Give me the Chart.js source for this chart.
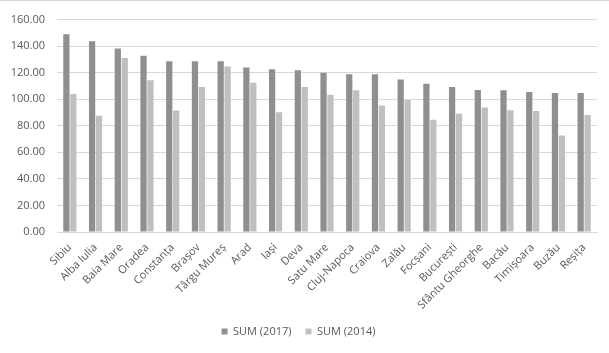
<!DOCTYPE html>
<html>
<head>
<meta charset="utf-8">
<script src="https://cdn.jsdelivr.net/npm/chart.js@4"></script>
<style>
  html, body { margin: 0; padding: 0; background: #ffffff; }
  #wrap { position: relative; width: 609px; height: 353px; box-sizing: border-box; border-top: 1px solid #d9d9d9; }
</style>
</head>
<body>
<div id="wrap"><canvas id="chart"></canvas></div>
<script>
// Data
const cities = ["Sibiu", "Alba Iulia", "Baia Mare", "Oradea", "Constanța", "Brașov", "Târgu Mureș", "Arad", "Iași", "Deva",
    "Satu Mare", "Cluj-Napoca", "Craiova", "Zalău", "Focșani", "București", "Sfântu Gheorghe", "Bacău", "Timișoara", "Buzău", "Reșița"];
const sum2017 = [148.9, 143.6, 138.3, 132.8, 128.6, 128.6, 128.6, 123.9, 122.6, 121.9,
    119.9, 118.9, 118.9, 114.9, 111.6, 109.2, 106.9, 106.7, 105.4, 104.7, 104.7];
const sum2014 = [103.9, 87.5, 131.0, 114.4, 91.5, 109.2, 124.6, 112.4, 90.2, 109.2,
    103.4, 106.7, 95.2, 99.4, 84.5, 89.0, 93.7, 91.7, 91.2, 72.7, 88.2];
const yTicks = [0, 20, 40, 60, 80, 100, 120, 140, 160];

const textColor = "#595959";
const gridColor = "#d9d9d9";

new Chart(document.getElementById("chart"), {
    type: "bar",
    data: {
        labels: cities,
        datasets: [
            { label: "SUM (2017)", data: sum2017, backgroundColor: "#8f8f8f" },
            { label: "SUM (2014)", data: sum2014, backgroundColor: "#bfbfbf" },
        ],
    },
    options: {
        responsive: true,
        maintainAspectRatio: false,
        animation: false,
        datasets: { bar: { categoryPercentage: 0.54, barPercentage: 0.9 } },
        layout: { padding: { top: 8, right: 12, bottom: 6, left: 0 } },
        plugins: {
            tooltip: { enabled: false },
            legend: {
                position: "bottom",
                labels: {
                    color: textColor,
                    font: { family: "Open Sans", size: 11 },
                    boxWidth: 6,
                    boxHeight: 6,
                    padding: 14,
                },
            },
        },
        scales: {
            x: {
                grid: { display: false },
                border: { color: gridColor },
                ticks: {
                    color: textColor,
                    font: { family: "Open Sans", size: 11 },
                    minRotation: 45,
                    maxRotation: 45,
                    autoSkip: false,
                    padding: 1,
                },
                afterFit: (axis) => { axis.height = 80; },
            },
            y: {
                min: 0,
                max: 160,
                afterBuildTicks: (axis) => { axis.ticks = yTicks.map((v) => ({ value: v })); },
                grid: { color: gridColor, drawTicks: false },
                border: { display: false },
                ticks: {
                    color: textColor,
                    font: { family: "Open Sans", size: 11 },
                    padding: 12,
                    callback: (v) => v.toFixed(2),
                },
                afterFit: (axis) => { axis.width = 57; },
            },
        },
    },
});
</script>
</body>
</html>
